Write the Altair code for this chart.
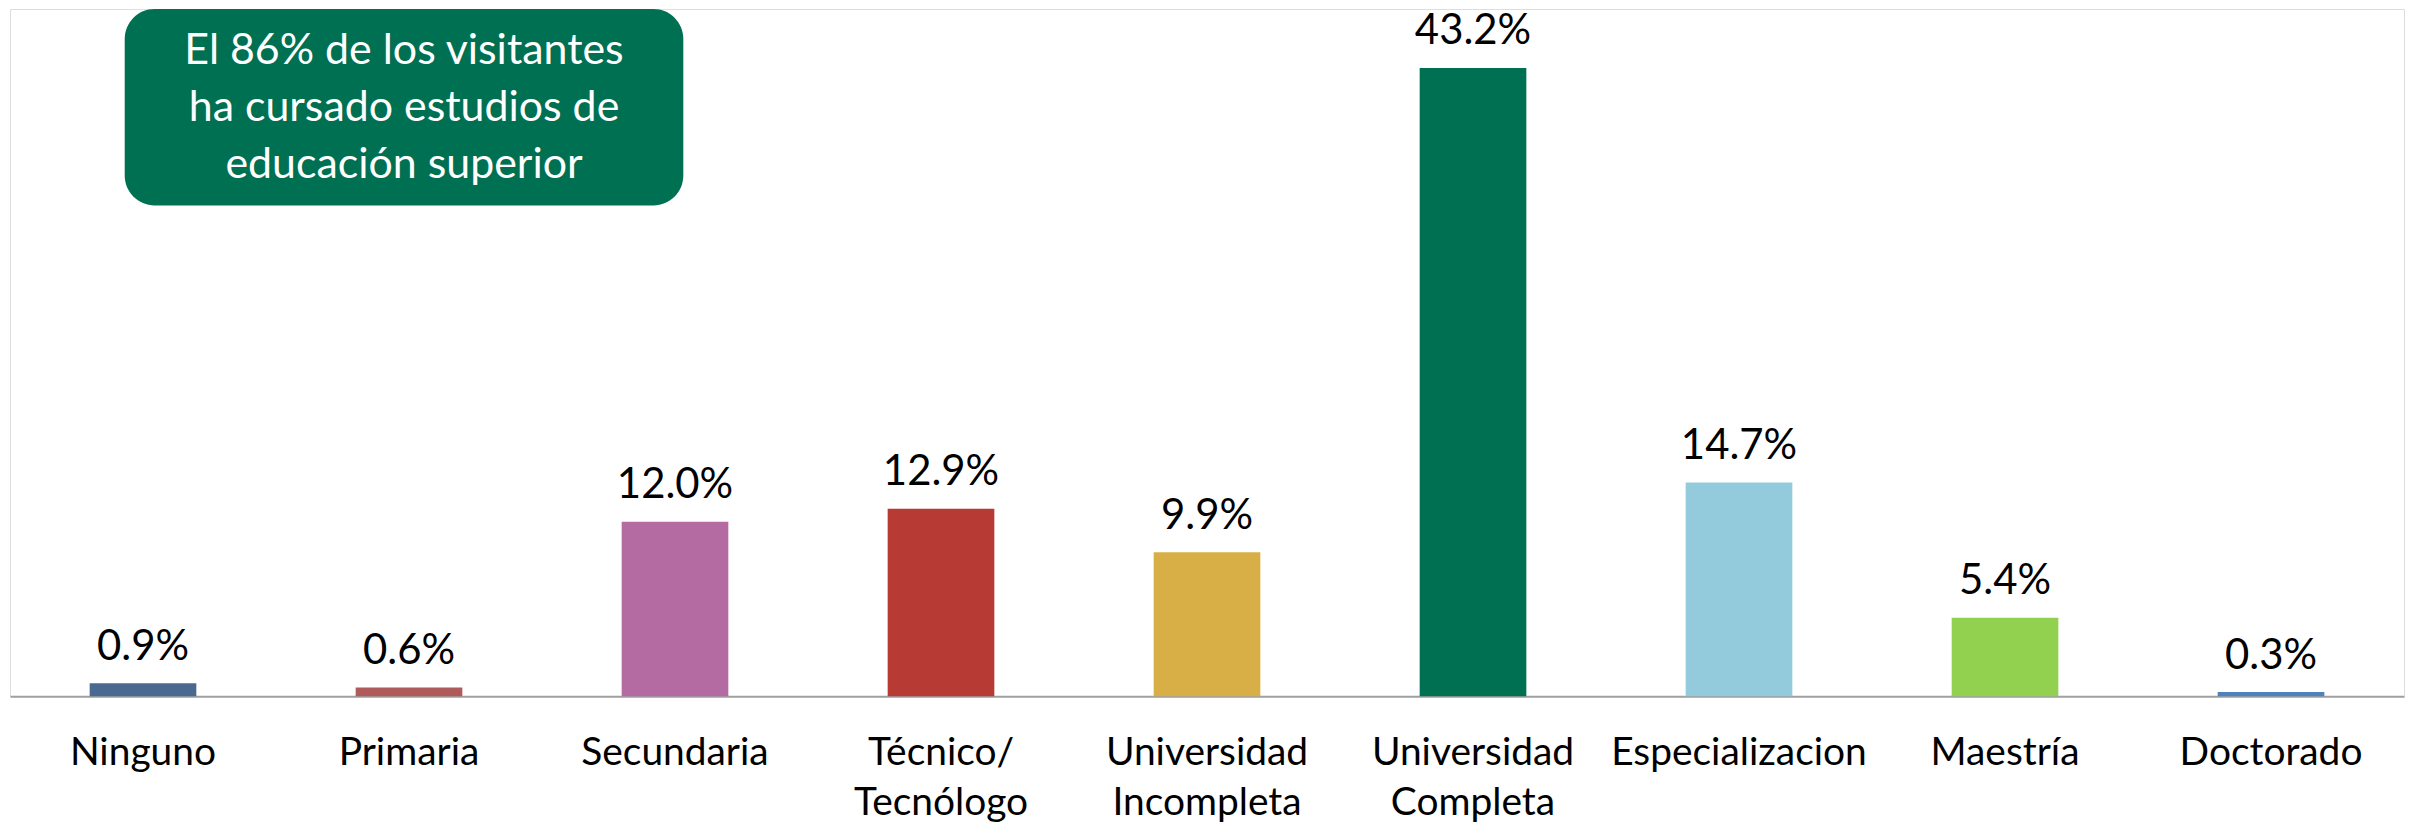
import altair as alt
import pandas as pd

categories = ["Ninguno", "Primaria", "Secundaria", "Técnico/ Tecnólogo",
              "Universidad Incompleta", "Universidad Completa",
              "Especializacion", "Maestría", "Doctorado"]
values = [0.9, 0.6, 12.0, 12.9, 9.9, 43.2, 14.7, 5.4, 0.3]
colors = ["#4A6990", "#AF5B5B", "#B46BA2", "#B83A34", "#D8AE47",
          "#007052", "#93CBDC", "#92D050", "#4F81BD"]
note_lines = ["El 86% de los visitantes", "ha cursado estudios de",
              "educación superior"]

df = pd.DataFrame({"cat": categories, "value": values})

FONT = "Lato"
W, H = 2400, 689

x = alt.X("cat:N", sort=categories,
          scale=alt.Scale(paddingInner=0.599, paddingOuter=0.2995),
          axis=alt.Axis(title=None, labelAngle=0, ticks=False, tickSize=0,
                        labelPadding=68, labelBaseline="alphabetic",
                        labelFontSize=39, labelFont=FONT, labelColor="#000000",
                        labelLineHeight=50, labelLimit=400,
                        labelExpr="split(datum.label, ' ')",
                        domainColor="#A0A0A0", domainWidth=2, grid=False))
y = alt.Y("value:Q", scale=alt.Scale(domain=[0, 47.25], nice=False),
          axis=None)

base = alt.Chart(df)

bars = base.mark_bar().encode(
    x=x, y=y,
    color=alt.Color("cat:N", scale=alt.Scale(domain=categories, range=colors),
                    legend=None),
)

labels = base.transform_calculate(
    lbl="format(datum.value, '.1f') + '%'"
).mark_text(font=FONT, fontSize=42, color="#000000", baseline="alphabetic",
            dy=-23.5).encode(x=x, y=y, text="lbl:N")

box_df = pd.DataFrame({"k": [0]})
box = alt.Chart(box_df).mark_rect(color="#007052", cornerRadius=30).encode(
    x=alt.value(115), x2=alt.value(675), y=alt.value(0), y2=alt.value(197))
note = alt.Chart(box_df).mark_text(
    font=FONT, fontSize=43, color="#FFFFFF", align="center",
    baseline="alphabetic", lineHeight=57, text=note_lines
).encode(x=alt.value(395), y=alt.value(55))

chart = alt.layer(bars, labels, box, note).properties(
    width=W, height=H,
    autosize=alt.AutoSizeParams(type="none"),
    padding={"left": 2, "top": 0, "right": 5, "bottom": 136},
).configure_view(stroke=None).configure(background="white")

chart.save("out.html", embed_options={"renderer": "svg", "actions": False})
